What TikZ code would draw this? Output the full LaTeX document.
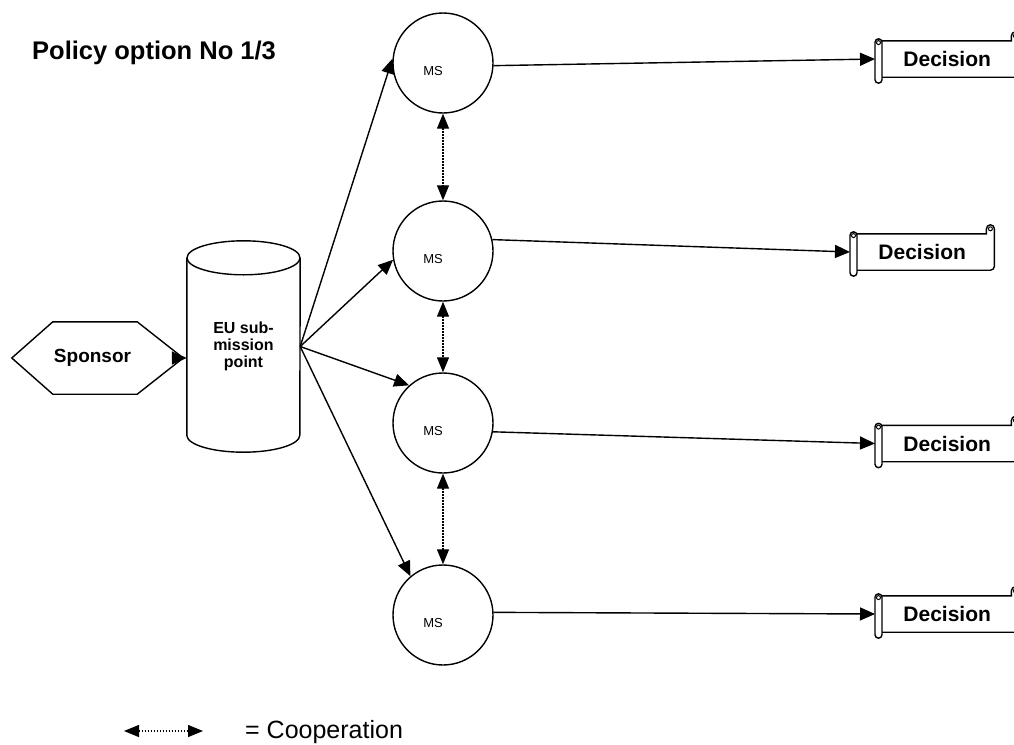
\documentclass[tikz,border=0pt]{standalone}
\usepackage{fontspec}
\setmainfont{Liberation Sans}
\usetikzlibrary{arrows.meta,calc}
\begin{document}
\begin{tikzpicture}[x=1pt,y=-1pt,
  ln/.style={line width=1.4pt},
  arr/.style={ln,-{Triangle[length=15pt,width=13pt]}},
  coop/.style={line width=1.3pt,dash pattern=on 1.2pt off 1.8pt,
     {Triangle[length=15pt,width=12pt]}-{Triangle[length=15pt,width=12pt]}},
  msnode/.style={circle,draw,ln,minimum size=100pt,inner sep=0pt},
  mstext/.style={font=\fontsize{13}{15}\selectfont,inner sep=0pt},
  decnode/.style={rectangle,draw=none,minimum width=144pt,minimum height=36pt,
     inner sep=0pt,anchor=west,font=\fontsize{21}{24}\selectfont\bfseries},
]
\useasboundingbox (0,0) rectangle (1014,744);

% title
\node[anchor=west,inner sep=0pt,font=\fontsize{25.5}{30}\selectfont\bfseries] (title) at (32,53) {Policy option No 1/3};

% sponsor hexagon
\node[rectangle,draw=none,minimum width=171pt,minimum height=72pt,inner sep=0pt,
      font=\fontsize{19}{22}\selectfont\bfseries] (sp) at (97.5,358) {\hspace*{-10pt}Sponsor};
\draw[ln] (sp.west) -- ([xshift=41pt]sp.north west) -- ([xshift=-46pt]sp.north east)
   -- (sp.east) -- ([xshift=-46pt]sp.south east) -- ([xshift=41pt]sp.south west) -- cycle;

% cylinder
\node[rectangle,draw=none,minimum width=113pt,minimum height=143pt,inner sep=0pt,
      align=center,font=\fontsize{16}{17}\selectfont\bfseries] (eu) at (243.5,346.5)
      {EU sub-\\mission\\point};
\draw[ln] ([yshift=17pt]eu.north west) -- ([yshift=-17pt]eu.south west)
   arc[start angle=180,end angle=0,x radius=56.5,y radius=17]
   -- ([yshift=17pt]eu.north east);
\draw[ln] ([yshift=17pt]eu.north) ellipse[x radius=56.5,y radius=17];

% MS circles
\node[msnode] (c1) at (443,63) {};
\node[msnode] (c2) at (443,251) {};
\node[msnode] (c3) at (443,423) {};
\node[msnode] (c4) at (443,615) {};
\foreach \c in {c1,c2,c3,c4}{
  \node[mstext] (\c t) at ([shift={(-10,8)}]\c.center) {MS};
}

% decisions
\node[decnode] (d1) at (875,59) {Decision};
\node[decnode] (d2) at (850,252) {Decision};
\node[decnode] (d3) at (875,443.5) {Decision};
\node[decnode] (d4) at (875,614) {Decision};
\foreach \d in {d1,d2,d3,d4}{
  \draw[ln,rounded corners=3.5pt] ([shift={(0,-2)}]\d.north west) rectangle ([shift={(7,6)}]\d.south west);
  \draw[line width=1pt] ([shift={(3.5,1.8)}]\d.north west) circle (2);
  \draw[ln] ([shift={(7,0)}]\d.north west) -- ([shift={(-8,0)}]\d.north east)
     -- ([shift={(-8,-5)}]\d.north east)
     arc[start angle=180,end angle=360,radius=4]
     [rounded corners=4pt] -- (\d.south east) -- ([shift={(7,0)}]\d.south west);
  \draw[line width=1pt] ([shift={(-4,-5)}]\d.north east) circle (2);
}

% connectors
\draw[arr] (sp.east) -- (sp.east -| eu.west);
\draw[arr] (eu.east) -- (c1.175);
\draw[arr] (eu.east) -- (c2.190);
\draw[arr] (eu.east) -- (c3.132);
\draw[arr] (eu.east) -- (c4.130);

\draw[arr] (c1.-3) -- (d1.west);
\draw[arr] (c2.13) -- (d2.west);
\draw[arr] (c3.-10) -- (d3.west);
\draw[arr] (c4.3) -- (d4.west);

\draw[coop] (c1.south) -- (c2.north);
\draw[coop] (c2.south) -- (c3.north);
\draw[coop] (c3.south) -- (c4.north);

% legend
\coordinate (la) at (124,731);
\coordinate (lb) at (203,731);
\draw[coop] (la) -- (lb);
\node[anchor=west,inner sep=0pt,font=\fontsize{25}{30}\selectfont] (leg) at (245,732) {= Cooperation};
\end{tikzpicture}
\end{document}
